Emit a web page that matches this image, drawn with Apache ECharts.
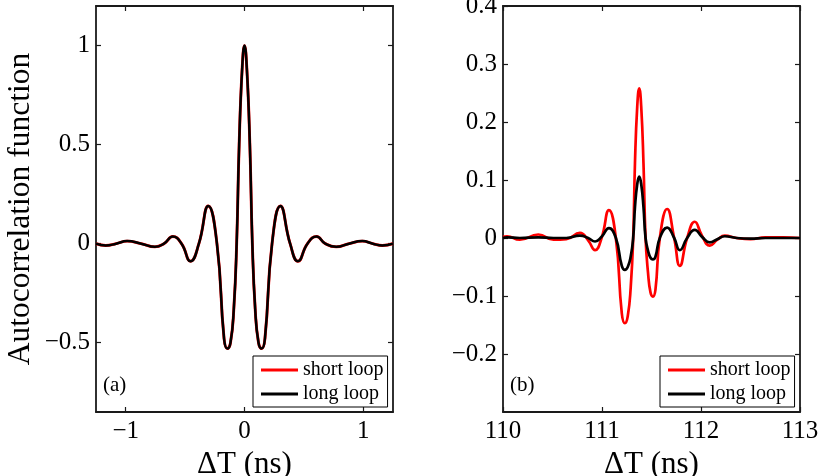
<!DOCTYPE html>
<html><head><meta charset="utf-8">
<script src="https://cdn.jsdelivr.net/npm/echarts@6/dist/echarts.min.js"></script>
<style>html,body{margin:0;padding:0;background:#fff}#c{width:820px;height:476px}</style>
</head><body><div id="c"></div>
<script>
// ---- data ----
const leftX = [-1.25, -1.168, -1.08, -0.988, -0.87, -0.754, -0.678, -0.603, -0.53, -0.454, -0.384, -0.305, -0.232, -0.172, -0.145, -0.118, -0.09, -0.066, -0.045, -0.02, 0, 0.02, 0.045, 0.066, 0.09, 0.118, 0.145, 0.172, 0.232, 0.302, 0.384, 0.45, 0.53, 0.606, 0.68, 0.772, 0.88, 0.992, 1.08, 1.16, 1.25];
const leftShort = [0, -0.009, 0, 0.013, 0, -0.016, 0, 0.036, 0, -0.089, 0, 0.19, 0, -0.48, -0.53, -0.5, -0.33, 0, 0.5, 0.88, 1.0, 0.88, 0.5, 0, -0.33, -0.5, -0.53, -0.48, 0, 0.19, 0, -0.089, 0, 0.036, 0, -0.016, 0, 0.013, 0, -0.009, 0];
const leftLong = [0, -0.009, 0, 0.013, 0, -0.016, 0, 0.036, 0, -0.089, 0, 0.19, 0, -0.48, -0.53, -0.5, -0.33, 0, 0.5, 0.88, 1.0, 0.88, 0.5, 0, -0.33, -0.5, -0.53, -0.48, 0, 0.19, 0, -0.089, 0, 0.036, 0, -0.016, 0, 0.013, 0, -0.009, 0];
const rightX = [110.0, 110.04, 110.17, 110.357, 110.51, 110.64, 110.777, 110.86, 110.93, 110.996, 111.07, 111.14, 111.2, 111.231, 111.26, 111.29, 111.315, 111.333, 111.356, 111.376, 111.396, 111.419, 111.44, 111.465, 111.49, 111.514, 111.54, 111.584, 111.658, 111.729, 111.786, 111.86, 111.937, 112.01, 112.089, 112.165, 112.24, 112.36, 112.5, 112.65, 112.83, 113.0];
const rightShort = [0.002, 0.003, -0.003, 0.006, -0.003, -0.002, 0.009, -0.004, -0.021, 0, 0.048, 0, -0.13, -0.147, -0.135, -0.085, 0, 0.129, 0.227, 0.258, 0.227, 0.129, 0, -0.06, -0.094, -0.101, -0.089, 0, 0.05, 0, -0.048, 0, 0.028, 0.004, -0.013, -0.003, 0.004, 0, -0.002, 0.001, 0.001, 0];
const rightLong = [0, 0.001, 0, 0.001, 0, 0, 0.004, 0, -0.006, 0.002, 0.017, 0, -0.048, -0.055, -0.05, -0.032, 0, 0.053, 0.093, 0.106, 0.093, 0.053, 0, -0.022, -0.034, -0.037, -0.032, 0, 0.018, 0, -0.021, 0, 0.014, 0.002, -0.0075, -0.002, 0.003, 0, -0.001, 0, 0, 0];

const leftXTicks = [-1, 0, 1];
const leftYTicks = [-0.5, 0, 0.5, 1];
const rightXTicks = [110, 111, 112, 113];
const rightYTicks = [-0.2, -0.1, 0, 0.1, 0.2, 0.3, 0.4];
const seriesNames = ['short loop', 'long loop'];
const panelLabels = ['(a)', '(b)'];
const xTitle = 'ΔT (ns)';
const yTitle = 'Autocorrelation function';

// ---- styling ----
const FONT = "'Liberation Serif','Times New Roman',serif";
const AXC = '#1a1a1a';
const fmt = v => String(Math.round(v * 100) / 100).replace('-', '\u2212');
const zip = (xs, ys) => xs.map((x, i) => [x, ys[i]]);

function xAxes(gi, min, max, ticks) {
  const common = {
    gridIndex: gi, type: 'value', min, max,
    axisLine: { show: true, onZero: false, lineStyle: { color: AXC, width: 1.8 } },
    axisTick: { show: true, inside: true, length: 5, customValues: ticks, lineStyle: { color: AXC, width: 1.2 } },
    splitLine: { show: false }
  };
  return [
    Object.assign({}, common, {
      position: 'bottom',
      axisLabel: { customValues: ticks, formatter: fmt, fontFamily: FONT, fontSize: 25, color: '#000', margin: 7 },
      name: xTitle, nameLocation: 'middle', nameGap: 33,
      nameTextStyle: { fontFamily: FONT, fontSize: 31, color: '#000' }
    }),
    Object.assign({}, common, { position: 'top', axisLabel: { show: false } })
  ];
}
function yAxes(gi, min, max, ticks, withName) {
  const common = {
    gridIndex: gi, type: 'value', min, max,
    axisLine: { show: true, onZero: false, lineStyle: { color: AXC, width: 1.8 } },
    axisTick: { show: true, inside: true, length: 5, customValues: ticks, lineStyle: { color: AXC, width: 1.2 } },
    splitLine: { show: false }
  };
  const a = Object.assign({}, common, {
    position: 'left',
    axisLabel: { customValues: ticks, formatter: fmt, fontFamily: FONT, fontSize: 25, color: '#000', margin: 6 }
  });
  if (withName) {
    Object.assign(a, {
      name: yTitle, nameLocation: 'middle', nameGap: 59,
      nameTextStyle: { fontFamily: FONT, fontSize: 31.5, color: '#000' }
    });
  }
  return [a, Object.assign({}, common, { position: 'right', axisLabel: { show: false } })];
}
function lineSeries(name, xi, data, color, width) {
  return {
    name, type: 'line', xAxisIndex: xi, yAxisIndex: xi, data,
    showSymbol: false, symbol: 'none', smooth: true,
    lineStyle: { color, width }, itemStyle: { color }
  };
}
function legendAt(left) {
  return {
    left, top: 356, orient: 'vertical', data: seriesNames, icon: 'rect',
    itemWidth: 37, itemHeight: 3, itemGap: 2, padding: [3, 4, 2, 8],
    borderColor: '#000', borderWidth: 1, borderRadius: 0, backgroundColor: '#fff',
    textStyle: { fontFamily: FONT, fontSize: 20, lineHeight: 22, color: '#000' },
    selectedMode: false
  };
}

const chart = echarts.init(document.getElementById('c'), null, { renderer: 'canvas' });
chart.setOption({
  animation: false,
  backgroundColor: '#fff',
  grid: [
    { left: 96, top: 6, width: 297, height: 406, outerBoundsMode: 'none' },
    { left: 503, top: 6, width: 297, height: 406, outerBoundsMode: 'none' }
  ],
  title: [
    { text: panelLabels[0], left: 103, top: 375, padding: 0, textStyle: { fontFamily: FONT, fontSize: 21, fontWeight: 'normal', color: '#000' } },
    { text: panelLabels[1], left: 510, top: 375, padding: 0, textStyle: { fontFamily: FONT, fontSize: 21, fontWeight: 'normal', color: '#000' } }
  ],
  legend: [legendAt(253), legendAt(660)],
  xAxis: [...xAxes(0, -1.25, 1.25, leftXTicks), ...xAxes(1, 110, 113, rightXTicks)],
  yAxis: [...yAxes(0, -0.85, 1.2, leftYTicks, true), ...yAxes(1, -0.3, 0.4, rightYTicks, false)],
  series: [
    lineSeries(seriesNames[0], 0, zip(leftX, leftShort), '#ff0000', 2.9),
    lineSeries(seriesNames[1], 0, zip(leftX, leftLong), '#000000', 2.5),
    lineSeries(seriesNames[0], 2, zip(rightX, rightShort), '#ff0000', 2.7),
    lineSeries(seriesNames[1], 2, zip(rightX, rightLong), '#000000', 2.7)
  ]
});
</script>
</body></html>
